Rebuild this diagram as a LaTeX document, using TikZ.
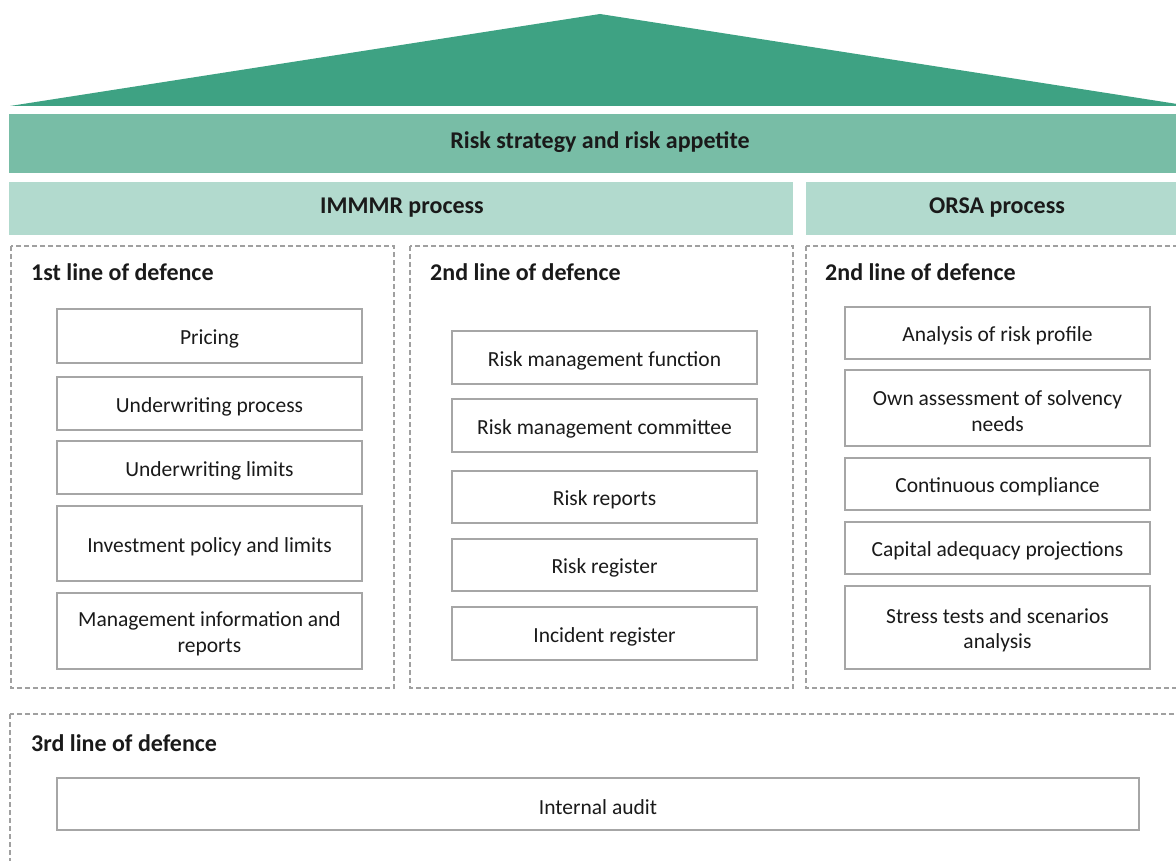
\documentclass[tikz,border=0pt]{standalone}
\usepackage{fontspec}
\setmainfont{Carlito}
\definecolor{roof}{HTML}{3EA283}
\definecolor{band}{HTML}{78BDA6}
\definecolor{light}{HTML}{B2DACE}
\definecolor{boxline}{HTML}{A6A6A6}
\definecolor{dashline}{HTML}{A0A0A0}
\definecolor{txt}{HTML}{1A1A1A}
\tikzset{
  ibox/.style={draw=boxline, line width=2.5pt, fill=white, inner sep=0pt},
  ilbl/.style={align=center, text=txt, font=\fontsize{21.5}{25.5}\selectfont, inner sep=0pt},
  dbox/.style={draw=dashline, line width=1.1pt, dash pattern=on 5pt off 3pt},
  hdr/.style={font=\fontsize{24}{28}\selectfont\bfseries, text=txt, inner sep=0pt},
}
% #1 name, #2 centre, #3 width, #4 height, #5 text
\newcommand\ibx[5]{%
  \node[ibox, minimum width=#3pt, minimum height=#4pt] (#1) at (#2) {};
  \node[ilbl] (#1-t) at ([yshift=-3pt]#1.center) {#5};}
\begin{document}
\begin{tikzpicture}[x=1pt,y=-1pt]
\clip (0,0) rectangle (1176,861);
\fill[white] (0,0) rectangle (1176,861);
% roof
\fill[roof] (10,106) -- (600,14) -- (1190,106) -- cycle;
% bands
\fill[band] (9,114) rectangle (1190,173);
\node[hdr] (strategy) at (600,142) {Risk strategy and risk appetite};
\fill[light] (9,182) rectangle (793,235);
\node[hdr] (immmr) at (402,208) {IMMMR process};
\fill[light] (806,182) rectangle (1190,235);
\node[hdr] (orsa) at (997,208) {ORSA process};
% dashed containers
\draw[dbox] (11,246) rectangle (394,688);
\draw[dbox] (410,246) rectangle (793,688);
\draw[dbox] (806,246) rectangle (1190,688);
\draw[dbox] (10,714) rectangle (1190,880);
\node[hdr, anchor=base west] (l1) at (31,280) {1st line of defence};
\node[hdr, anchor=base west] (l2a) at (430,280) {2nd line of defence};
\node[hdr, anchor=base west] (l2b) at (825,280) {2nd line of defence};
\node[hdr, anchor=base west] (l3) at (31,751) {3rd line of defence};
% column 1
\ibx{pricing}{209.5,336}{305}{54}{Pricing}
\ibx{uwp}{209.5,403.5}{305}{53}{Underwriting process}
\ibx{uwl}{209.5,467.5}{305}{53}{Underwriting limits}
\ibx{inv}{209.5,543.5}{305}{75}{Investment policy and limits}
\ibx{mir}{209.5,631}{305}{76}{Management information and\\reports}
% column 2
\ibx{rmf}{604.5,357.5}{305}{53}{Risk management function}
\ibx{rmc}{604.5,425.5}{305}{53}{Risk management committee}
\ibx{rr}{604.5,497}{305}{52}{Risk reports}
\ibx{rreg}{604.5,565}{305}{52}{Risk register}
\ibx{ireg}{604.5,633.5}{305}{53}{Incident register}
% column 3
\ibx{arp}{997.5,333}{305}{52}{Analysis of risk profile}
\ibx{oas}{997.5,408}{305}{76}{Own assessment of solvency\\needs}
\ibx{cc}{997.5,484}{305}{52}{Continuous compliance}
\ibx{cap}{997.5,548}{305}{52}{Capital adequacy projections}
\ibx{st}{997.5,627.5}{305}{83}{Stress tests and scenarios\\analysis}
% internal audit
\ibx{ia}{598,804}{1082}{52}{Internal audit}
\end{tikzpicture}
\end{document}
